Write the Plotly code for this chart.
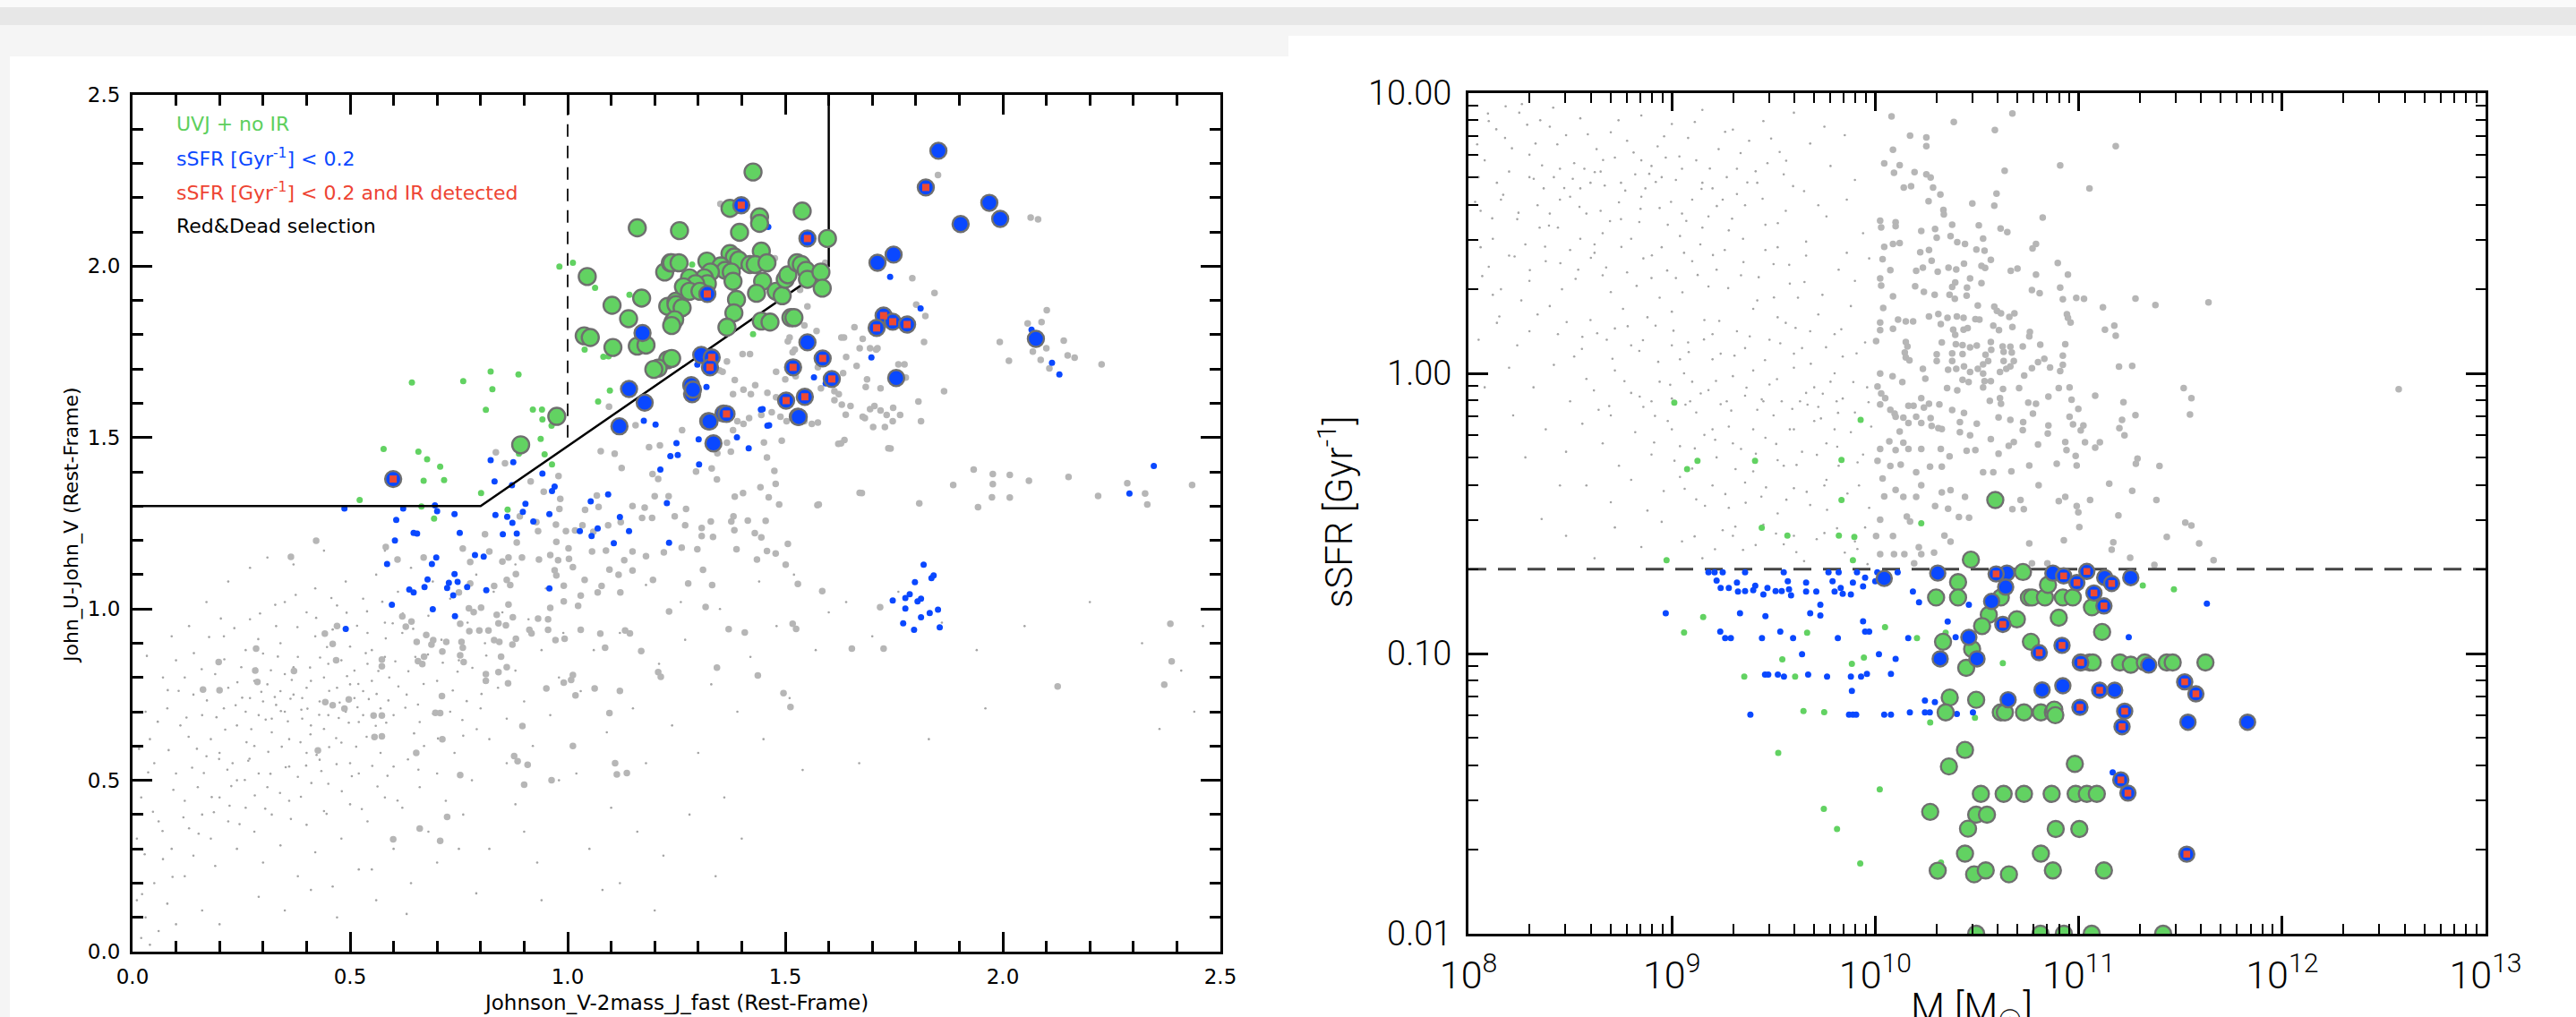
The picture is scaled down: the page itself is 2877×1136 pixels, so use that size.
import plotly.graph_objects as go

W, H = 2877, 1136

# ======================= LEFT PANEL : UVJ colour-colour =======================
# tiny background points (V-J, U-V)
L_TINY = [
(0.18,0.62),(0.21,0.71),(0.24,0.66),(0.27,0.74),(0.29,0.69),(0.31,0.78),(0.33,0.72),(0.35,0.81),(0.37,0.75),(0.39,0.68),
(0.41,0.79),(0.43,0.73),(0.45,0.84),(0.47,0.77),(0.49,0.70),(0.51,0.82),(0.53,0.76),(0.55,0.88),(0.57,0.71),(0.59,0.80),
(0.20,0.58),(0.22,0.77),(0.25,0.83),(0.28,0.60),(0.30,0.87),(0.32,0.64),(0.34,0.90),(0.36,0.62),(0.38,0.86),(0.40,0.58),
(0.42,0.92),(0.44,0.65),(0.46,0.94),(0.48,0.61),(0.50,0.89),(0.52,0.67),(0.54,0.93),(0.56,0.63),(0.58,0.96),(0.60,0.69),
(0.16,0.69),(0.19,0.81),(0.23,0.55),(0.26,0.88),(0.29,0.52),(0.33,0.95),(0.36,0.54),(0.40,0.99),(0.43,0.56),(0.47,1.01),
(0.50,0.55),(0.53,1.03),(0.57,0.58),(0.61,1.05),(0.63,0.75),(0.65,0.86),(0.62,0.93),(0.66,0.67),(0.68,0.98),(0.70,0.79),
(0.14,0.75),(0.17,0.57),(0.21,0.92),(0.24,0.50),(0.27,0.97),(0.31,0.48),(0.35,1.02),(0.38,0.51),(0.42,1.06),(0.45,0.49),
(0.49,1.08),(0.52,0.52),(0.56,1.10),(0.60,0.54),(0.64,1.12),(0.67,0.60),(0.71,0.91),(0.73,0.70),(0.75,0.85),(0.77,0.96),
(0.26,0.70),(0.28,0.79),(0.32,0.68),(0.34,0.76),(0.37,0.83),(0.39,0.74),(0.41,0.66),(0.44,0.80),(0.46,0.72),(0.48,0.85),
(0.51,0.74),(0.53,0.69),(0.55,0.79),(0.58,0.86),(0.30,0.73),(0.35,0.70),(0.40,0.77),(0.45,0.69),(0.50,0.78),(0.54,0.84),
(0.02,0.45),(0.04,0.62),(0.06,0.38),(0.08,0.71),(0.10,0.52),(0.12,0.44),(0.05,0.55),(0.09,0.30),(0.11,0.66),(0.13,0.36),
(0.15,0.48),(0.07,0.80),(0.03,0.70),(0.01,0.33),(0.14,0.28),(0.16,0.40),(0.18,0.33),(0.20,0.45),(0.22,0.38),(0.19,0.25),
(0.24,0.30),(0.26,0.42),(0.28,0.35),(0.30,0.26),(0.32,0.40),(0.34,0.31),(0.36,0.44),(0.38,0.22),(0.40,0.37),(0.42,0.29),
(0.44,0.41),(0.46,0.19),(0.48,0.33),(0.50,0.43),(0.52,0.24),(0.54,0.38),(0.56,0.15),(0.58,0.45),(0.60,0.30),(0.62,0.42),
(0.64,0.20),(0.66,0.48),(0.68,0.35),(0.70,0.52),(0.72,0.44),(0.74,0.58),(0.76,0.63),(0.78,0.50),(0.80,0.71),(0.82,0.62),
(0.84,0.77),(0.86,0.68),(0.88,0.82),(0.90,0.73),(0.92,0.60),(0.94,0.88),(0.96,0.69),(0.98,0.80),(0.81,0.90),(0.85,0.99),
(0.10,0.85),(0.13,0.95),(0.17,1.02),(0.22,1.08),(0.27,1.12),(0.12,0.80),(0.09,0.92),(0.31,1.15),(0.37,1.13),(0.44,1.17),
(0.58,1.17),(0.69,1.08),(0.73,1.03),(0.79,1.10),(0.83,1.05),(0.88,1.13),(0.91,0.97),(0.95,1.06),(0.99,0.93),(1.02,1.01),
(0.05,0.20),(0.08,0.14),(0.12,0.22),(0.03,0.10),(0.02,0.04),(0.06,0.06),(0.04,0.02),(0.10,0.08),(0.01,0.15),(0.07,0.27),
(0.16,0.12),(0.20,0.08),(0.29,0.16),(0.35,0.12),(0.41,0.18),(0.47,0.10),(0.55,0.24),(0.63,0.11),(0.70,0.26),(0.76,0.40),
(1.03,0.76),(1.06,0.88),(1.09,0.64),(1.12,0.93),(1.15,0.71),(1.18,0.55),(1.21,0.84),(1.24,0.66),(1.27,0.91),(1.30,0.58),
(1.33,0.78),(1.36,0.45),(1.39,0.70),(1.42,0.86),(1.45,0.62),(1.48,0.95),(1.51,0.74),(1.54,0.53),(1.57,0.88),(1.60,0.99),
(1.05,0.30),(1.10,0.42),(1.16,0.35),(1.22,0.28),(1.28,0.40),(1.34,0.22),(1.40,0.33),(1.08,0.18),(1.20,0.12),(0.82,0.30),
(0.88,0.43),(0.93,0.26),(0.98,0.50),(1.64,1.02),(1.70,0.92),(1.76,1.05),(1.86,0.96),(1.94,0.88),(2.05,0.95),(2.20,1.02),
(2.32,0.90),(2.41,0.82),(2.46,0.95),(2.44,0.70),(2.36,0.65),(1.96,0.71),(1.83,0.62),(1.67,0.55),(1.12,0.20),(0.94,0.15),
(1.02,0.52),(0.86,0.55),(0.90,0.35),(0.75,0.30),(0.79,0.17),(1.52,1.10),(1.44,1.08),(1.35,1.00),(1.26,1.02),(1.18,1.07),
(0.213,0.648),(0.237,0.719),(0.262,0.611),(0.284,0.826),(0.306,0.677),(0.327,0.743),(0.343,0.598),(0.366,0.793),(0.388,0.706),(0.409,0.634),
(0.431,0.858),(0.452,0.761),(0.474,0.682),(0.493,0.804),(0.517,0.713),(0.538,0.627),(0.561,0.752),(0.583,0.668),(0.604,0.847),(0.627,0.712),
(0.148,0.592),(0.171,0.733),(0.193,0.684),(0.218,0.531),(0.241,0.786),(0.266,0.557),(0.289,0.912),(0.312,0.583),(0.334,0.861),(0.357,0.672),
(0.379,0.947),(0.402,0.709),(0.423,0.574),(0.447,0.889),(0.468,0.623),(0.491,0.936),(0.514,0.598),(0.536,0.871),(0.559,0.659),(0.582,0.914),
(0.647,0.637),(0.669,0.781),(0.691,0.694),(0.713,0.843),(0.736,0.762),(0.758,0.676),(0.781,0.828),(0.802,0.752),(0.124,0.683),(0.137,0.537),
(0.159,0.824),(0.182,0.451),(0.203,0.972),(0.227,0.483),(0.252,0.741),(0.273,0.649),(0.296,0.758),(0.318,0.821),(0.341,0.702),(0.363,0.738),
(0.386,0.611),(0.408,0.829),(0.429,0.691),(0.452,0.597),(0.476,0.727),(0.497,0.668),(0.519,0.781),(0.543,0.737),(0.565,0.819),(0.588,0.733),
(0.611,0.774),(0.634,0.818),(0.656,0.721),(0.679,0.867),(0.702,0.622),(0.724,0.908),(0.747,0.817),(0.768,0.731),(0.791,0.649),(0.813,0.864),
(0.083,0.588),(0.094,0.472),(0.106,0.761),(0.117,0.392),(0.129,0.627),(0.141,0.871),(0.152,0.344),(0.164,0.521),(0.176,0.918),(0.187,0.407),
(0.199,0.562),(0.211,0.853),(0.223,0.426),(0.234,0.944),(0.246,0.372),(0.258,0.501),(0.269,0.563),(0.281,0.456),(0.293,0.987),(0.305,0.417),
(0.317,0.519),(0.328,1.012),(0.339,0.463),(0.352,0.538),(0.364,0.387),(0.375,1.041),(0.387,0.452),(0.399,0.543),(0.411,0.492),(0.422,0.974),
(0.434,0.527),(0.446,0.402),(0.457,1.032),(0.469,0.547),(0.481,0.468),(0.492,0.989),(0.504,0.512),(0.516,0.951),(0.527,0.416),(0.539,0.993),
(0.551,0.542),(0.563,0.482),(0.574,1.021),(0.586,0.513),(0.598,0.958),(0.609,0.441),(0.621,0.987),(0.633,0.561),(0.645,0.942),(0.657,0.531),
(0.036,0.523),(0.047,0.408),(0.058,0.671),(0.069,0.352),(0.081,0.763),(0.092,0.218),(0.028,0.284),(0.015,0.592),(0.022,0.168),(0.033,0.863),
]

# gray (no selection) galaxies
L_GRAY = [
(0.422,1.199),(0.364,1.152),(0.582,1.181),(0.609,1.144),(0.669,1.150),(0.759,1.176),(0.820,1.168),(0.883,1.194),(0.974,1.196),
(1.002,1.177),(1.056,1.168),(1.088,1.170),(1.149,1.168),(1.180,1.154),(1.221,1.165),(1.262,1.179),(1.298,1.174),(0.864,1.150),
(0.895,1.150),(0.934,1.144),(0.960,1.157),(0.978,1.142),(1.003,1.146),(1.012,1.122),(0.970,1.113),(0.974,1.098),(0.776,1.137),
(0.850,1.138),(1.096,1.115),(1.130,1.142),(1.149,1.112),(1.117,1.100),(1.121,1.048),(1.078,1.067),(1.069,1.048),(1.277,1.074),
(1.196,1.085),(1.039,1.085),(0.991,1.068),(1.030,1.039),(1.024,1.009),(0.991,1.022),(0.960,1.003),(0.881,1.102),(0.860,1.085),
(0.868,1.070),(0.831,1.067),(0.776,1.074),(0.750,1.048),(1.233,0.993),(0.620,0.978),(0.641,0.963),(0.628,0.948),(0.773,1.002),
(0.801,1.004),(0.784,0.991),(0.837,0.983),(0.874,0.976),(0.864,1.013),(0.753,0.957),(0.774,0.935),(0.797,0.937),(0.818,0.937),
(0.841,0.958),(0.858,0.952),(0.912,0.939),(0.932,0.972),(0.955,0.970),(0.955,0.939),(0.917,0.929),(0.675,0.924),(0.691,0.909),
(0.721,0.904),(0.653,0.904),(0.687,0.896),(0.756,0.904),(0.759,0.887),(0.753,0.865),(0.761,0.845),(0.831,0.909),(0.843,0.904),
(0.873,0.896),(0.881,0.913),(0.972,0.909),(0.993,0.913),(1.030,0.939),(1.075,0.928),(1.132,0.937),(1.143,0.929),(0.712,0.876),
(0.670,0.861),(0.666,0.839),(0.656,0.848),(0.573,0.852),(0.573,0.833),(0.468,0.850),(0.460,0.898),(0.442,0.928),(0.470,0.950),
(0.847,0.861),(0.860,0.830),(0.841,0.816),(0.812,0.810),(0.812,0.790),(0.863,0.783),(1.086,0.887),(1.169,0.877),(1.208,0.816),
(1.214,0.802),(0.991,0.785),(1.008,0.793),(1.012,0.807),(1.018,0.748),(1.062,0.768),(1.120,0.761),(0.951,0.768),(0.284,0.884),
(0.198,0.845),(0.282,0.820),(0.371,0.819),(0.287,0.787),(0.162,0.765),(0.200,0.763),(0.443,0.728),(0.460,0.719),(0.497,0.736),
(0.487,0.709),(0.554,0.689),(0.573,0.689),(0.696,0.697),(0.707,0.696),(0.711,0.746),(0.712,0.620),(0.556,0.626),(0.573,0.628),
(0.426,0.587),(0.652,0.580),(0.896,0.658),(1.096,0.696),(1.012,0.600),(0.877,0.571),(0.885,0.556),(0.908,0.545),(1.109,0.550),
(1.113,0.517),(1.136,0.521),(0.753,0.515),(0.900,0.487),(0.963,0.500),(0.723,0.393),(0.660,0.359),(0.599,0.328),(0.707,0.323),
(0.835,1.457),(0.856,1.425),(0.915,1.372),(0.979,1.388),(0.945,1.342),(0.983,1.321),(0.981,1.292),(0.890,1.270),(0.932,1.227),
(0.928,1.253),(0.973,1.246),(0.996,1.227),(1.017,1.229),(1.034,1.244),(1.059,1.225),(1.040,1.289),(1.067,1.331),(1.071,1.298),
(1.093,1.244),(1.122,1.253),(1.149,1.300),(1.177,1.296),(1.171,1.266),(1.194,1.266),(1.200,1.329),(1.232,1.329),(1.246,1.270),
(1.270,1.244),(1.272,1.292),(1.295,1.401),(1.212,1.477),(1.187,1.472),(1.195,1.394),(1.208,1.379),(1.124,1.411),(1.108,1.453),
(1.076,1.460),(1.095,1.590),(1.156,1.536),(0.810,1.218),
(1.851,2.266),(2.064,2.142),(2.081,2.137),(1.792,1.965),(1.843,1.922),(2.101,1.872),(2.057,1.833),(2.089,1.837),(2.140,1.783),
(1.993,1.779),(2.014,1.724),(2.100,1.761),(2.069,1.751),(2.087,1.727),(2.107,1.702),(2.149,1.740),(2.165,1.733),(2.227,1.714),
(1.819,1.779),(1.822,1.855),(1.801,1.888),(1.659,1.822),(1.678,1.788),(1.635,1.792),(1.629,1.792),(1.671,1.761),(1.695,1.761),
(1.712,1.761),(1.709,1.757),(1.760,1.714),(1.774,1.714),(1.777,1.675),(1.688,1.670),(1.685,1.648),(1.719,1.644),(1.664,1.709),
(1.640,1.735),(1.633,1.688),(1.623,1.627),(1.613,1.609),(1.630,1.596),(1.650,1.592),(1.678,1.561),(1.695,1.583),(1.705,1.592),
(1.719,1.579),(1.733,1.566),(1.747,1.548),(1.764,1.566),(1.748,1.587),(1.702,1.531),(1.729,1.531),(1.812,1.548),(1.806,1.605),
(1.865,1.635),(1.575,1.544),(1.561,1.540),(1.582,1.644),(1.613,1.635),(1.575,1.705),(1.639,1.567),(1.524,1.679),(1.500,1.670),
(1.479,1.692),(1.510,1.792),(1.517,1.749),(1.506,1.781),(1.572,1.811),(1.544,1.827),(1.522,1.757),(1.402,1.744),(1.419,1.744),
(1.366,1.722),(1.349,1.696),(1.356,1.692),(1.384,1.668),(1.380,1.627),(1.404,1.640),(1.421,1.627),(1.431,1.653),(1.459,1.631),
(1.479,1.618),(1.445,1.566),(1.417,1.557),(1.404,1.540),(1.390,1.548),(1.380,1.522),(1.469,1.574),(1.489,1.561),(1.503,1.548),
(1.544,1.548),(1.263,1.522),(1.551,1.883),(1.534,1.931),(1.592,2.010),(1.541,1.979),(1.513,1.971),(1.476,2.023),(1.351,2.182),
(1.933,1.407),(1.977,1.394),(1.977,1.364),(1.975,1.326),(2.016,1.391),(2.016,1.325),(2.060,1.374),(2.151,1.385),(1.886,1.362),
(1.943,1.297),(1.808,1.308),(2.219,1.330),(2.286,1.367),(2.327,1.337),(2.332,1.305),(2.435,1.362),(2.385,0.957),(2.388,0.847),
(2.371,0.779),(2.126,0.774),(1.718,1.005),(1.653,0.884),(1.726,0.884),(1.585,1.052),(1.529,1.073),(1.517,0.957),(1.525,0.942),
(1.407,0.931),(1.370,0.941),(1.343,0.829),(1.437,0.806),(1.496,0.754),(1.512,0.714),(1.317,1.006),(1.332,1.070),(1.311,1.114),
(1.501,1.129),(1.478,1.162),(1.458,1.169),(1.435,1.144),(1.388,1.174),(1.506,1.190),(1.445,1.209),(1.430,1.221),(1.383,1.230),
(1.334,1.210),(1.308,1.213),(1.308,1.236),(1.329,1.255),(1.376,1.255),(1.381,1.270),(1.414,1.258),(1.455,1.257),(1.486,1.305),
(1.462,1.326),(1.384,1.328),(1.403,1.338),(1.443,1.355),(1.478,1.365),(1.475,1.403),(1.458,1.442),(1.343,1.378),(1.574,1.303),
(1.671,1.339),(1.737,1.469),(1.622,1.482),(1.636,1.493),(1.492,1.491),(1.451,1.486),(1.366,1.485),(1.375,1.459),(1.344,1.454),
(1.331,1.410),(1.577,1.305),(1.676,1.338),(1.628,1.483),(1.742,1.468),(1.683,1.557),
]

L_GREEN_SMALL = [
(0.827,1.641),(1.097,1.637),(0.812,1.581),(0.920,1.582),(0.941,1.582),(0.942,1.553),(0.963,1.535),(1.070,1.605),(0.938,1.496),
(0.947,1.451),(0.964,1.422),(0.888,1.453),(0.577,1.467),(0.657,1.459),(0.677,1.437),(0.707,1.415),(0.669,1.374),(0.716,1.376),
(0.522,1.318),(0.801,1.338),(0.664,1.299),(0.862,1.290),(0.693,1.264),(0.600,1.366),(0.981,1.999),(1.012,2.010),(1.063,1.937),
(1.039,1.757),(1.082,1.736),(0.642,1.661),(0.760,1.665),(0.823,1.693),(0.887,1.684),(1.094,1.737),(1.142,1.917),(1.426,1.802),
(1.286,2.005),
]

L_BLUE_SMALL = [
(0.823,1.434),(0.875,1.428),(0.832,1.372),(0.872,1.361),(0.942,1.395),(0.964,1.344),(0.970,1.357),(0.487,1.293),(0.622,1.293),
(0.695,1.302),(0.700,1.285),(0.740,1.277),(0.606,1.260),(0.646,1.222),(0.654,1.220),(0.603,1.200),(0.752,1.222),(0.834,1.274),
(0.861,1.269),(0.873,1.251),(0.897,1.283),(0.903,1.307),(0.921,1.255),(0.958,1.277),(0.851,1.218),(0.883,1.220),(1.053,1.314),
(1.093,1.334),(1.028,1.227),(1.055,1.213),(1.069,1.235),(1.120,1.268),(1.141,1.227),(1.106,1.192),(1.228,1.309),(1.233,1.193),
(0.787,1.157),(0.807,1.153),(0.698,1.150),(0.688,1.131),(0.585,1.131),(0.678,1.086),(0.671,1.064),(0.636,1.057),(0.646,1.048),
(0.727,1.076),(0.723,1.061),(0.747,1.079),(0.740,1.102),(0.769,1.064),(0.737,1.040),(0.813,1.055),(0.958,1.060),(0.596,1.012),
(0.690,0.999),(0.741,0.979),(0.490,0.942),(1.175,1.549),(1.202,1.538),(1.250,1.484),(1.236,1.446),(1.253,1.449),(1.301,1.495),
(1.302,1.422),(1.213,1.407),(1.389,1.501),(1.416,1.469),(1.448,1.583),(1.463,1.536),
(1.818,1.129),(1.836,1.090),(1.841,1.098),(1.798,1.078),(1.747,1.025),(1.776,1.032),(1.786,1.043),(1.804,1.022),(1.812,1.030),
(1.776,1.001),(1.851,0.998),(1.832,0.988),(1.812,0.976),(1.771,0.958),(1.796,0.939),(1.855,0.946),(2.347,1.417),(2.291,1.337),
(1.461,2.115),(1.741,1.969),(1.811,1.877),(2.066,1.815),(2.113,1.718),(2.130,1.684),(1.698,1.734),(1.566,1.676),(1.593,1.658),
(1.319,1.648),(1.444,1.582),(1.459,1.535),(1.298,1.713),
]

L_GREEN_BIG = [
(0.892,1.479),(0.975,1.562),(1.045,1.970),(1.038,1.797),(1.052,1.792),(1.102,1.886),(1.104,1.763),(1.140,1.847),(1.170,1.907),
(1.160,1.767),(1.180,1.770),(1.160,2.112),(1.257,2.104),(1.223,1.983),(1.236,2.010),(1.230,1.883),(1.249,1.898),(1.242,1.837),
(1.230,1.727),(1.208,1.703),(1.198,1.699),
(1.426,2.275),(1.373,2.169),(1.539,2.161),(1.441,2.144),(1.441,2.125),(1.395,2.099),(1.597,2.081),(1.239,2.010),(1.256,2.010),
(1.320,2.015),(1.373,2.037),(1.383,2.027),(1.393,2.018),(1.445,2.044),(1.419,2.005),(1.431,2.005),(1.458,2.010),(1.352,2.001),
(1.362,1.988),(1.376,1.983),(1.380,1.956),(1.328,1.983),(1.314,1.966),(1.321,1.949),(1.280,1.966),(1.294,1.949),(1.266,1.940),
(1.280,1.927),(1.304,1.927),(1.249,1.888),(1.263,1.879),(1.246,1.844),(1.239,1.827),(1.388,1.903),(1.382,1.864),(1.366,1.822),
(1.448,1.956),(1.434,1.921),(1.445,1.840),(1.465,1.837),(1.513,1.850),(1.520,1.850),(1.479,1.927),(1.493,1.914),(1.500,1.962),
(1.506,1.975),(1.527,2.010),(1.537,2.005),(1.548,1.988),(1.551,1.962),(1.582,1.983),(1.585,1.936),(1.239,1.731),
]

L_BLUE_BIG = [
(1.852,2.337),(1.969,2.185),(1.994,2.138),(1.903,2.123),(1.712,2.010),(1.749,2.034),(2.076,1.788),(1.551,1.778),(1.529,1.561),
(1.755,1.674),(1.307,1.741),(1.284,1.653),(1.286,1.627),(1.323,1.548),(1.141,1.642),(1.177,1.602),(1.119,1.533),(1.288,1.640),
(1.326,1.547),(1.335,1.483),(1.531,1.560),(1.172,1.805),(1.358,1.570),
]

L_BLUE_RED = [
(0.599,1.379),(1.823,2.230),(1.399,2.178),(1.551,2.081),(1.321,1.919),(1.726,1.856),(1.747,1.838),(1.710,1.820),(1.780,1.830),
(1.586,1.731),(1.518,1.705),(1.607,1.671),(1.502,1.608),(1.545,1.619),(1.331,1.734),(1.327,1.705),(1.365,1.569),
]

UVJ_BOX_X = [0.0, 0.8, 1.6, 1.6]
UVJ_BOX_Y = [1.3, 1.3, 2.0, 2.5]
VJ_CUT_X = [1.0, 1.0]
VJ_CUT_Y = [1.5, 2.5]

LEGEND_TEXT = ["UVJ + no IR", "sSFR [Gyr<sup>-1</sup>] &lt; 0.2",
               "sSFR [Gyr<sup>-1</sup>] &lt; 0.2 and IR detected", "Red&amp;Dead selection"]
LEGEND_Y = [2.415, 2.316, 2.219, 2.118]
LEGEND_COLOR = ["#5dcf5d", "#0a48ff", "#ee4433", "#000000"]

L_TICKS = [0.0, 0.5, 1.0, 1.5, 2.0, 2.5]
L_TICKTEXT = ["0.0", "0.5", "1.0", "1.5", "2.0", "2.5"]

# ======================= RIGHT PANEL : sSFR vs stellar mass ===================
# values are (log10 M, log10 sSFR)
R_TINY = [
(8.10,0.90),(8.25,0.93),(8.40,0.88),(8.55,0.91),(8.70,0.86),(8.85,0.92),(9.00,0.89),(9.15,0.94),(9.30,0.87),(9.45,0.90),
(9.60,0.93),(9.75,0.88),(8.18,0.84),(8.33,0.82),(8.48,0.85),(8.63,0.80),(8.78,0.83),(8.93,0.81),(9.08,0.84),(9.23,0.80),
(9.38,0.83),(9.53,0.79),(9.68,0.82),(9.85,0.85),(8.08,0.76),(8.20,0.72),(8.30,0.78),(8.42,0.70),(8.52,0.75),(8.60,0.68),
(8.72,0.77),(8.82,0.71),(8.90,0.74),(9.02,0.69),(9.12,0.76),(9.20,0.66),(9.32,0.73),(9.42,0.68),(9.55,0.71),(9.65,0.65),
(9.78,0.74),(9.90,0.69),(8.14,0.68),(8.37,0.66),(8.57,0.73),(8.67,0.67),(8.87,0.66),(8.97,0.77),(9.27,0.70),(9.47,0.75),
(8.06,0.58),(8.16,0.62),(8.24,0.55),(8.34,0.60),(8.44,0.52),(8.50,0.63),(8.58,0.57),(8.66,0.50),(8.74,0.61),(8.84,0.54),
(8.94,0.59),(9.04,0.49),(9.10,0.62),(9.18,0.56),(9.28,0.51),(9.36,0.60),(9.46,0.53),(9.56,0.58),(9.66,0.47),(9.76,0.56),
(9.86,0.62),(9.94,0.50),(8.12,0.48),(8.28,0.46),(8.40,0.57),(8.62,0.46),(8.80,0.48),(8.98,0.53),(9.14,0.46),(9.32,0.64),
(9.52,0.45),(9.72,0.60),(8.10,0.38),(8.20,0.42),(8.30,0.33),(8.38,0.40),(8.46,0.30),(8.54,0.37),(8.62,0.43),(8.70,0.29),
(8.78,0.36),(8.86,0.41),(8.94,0.27),(9.02,0.34),(9.10,0.40),(9.18,0.31),(9.26,0.44),(9.34,0.35),(9.42,0.26),(9.50,0.39),
(9.58,0.32),(9.66,0.42),(9.74,0.28),(9.82,0.37),(9.90,0.33),(9.97,0.41),(8.16,0.30),(8.26,0.26),(8.50,0.44),(8.66,0.35),
(8.90,0.34),(9.06,0.43),(9.22,0.37),(9.46,0.44),(9.62,0.27),(9.86,0.43),(8.14,0.18),(8.24,0.10),(8.34,0.21),(8.44,0.14),
(8.52,0.06),(8.60,0.19),(8.68,0.12),(8.76,0.23),(8.84,0.08),(8.92,0.17),(9.00,0.22),(9.08,0.11),(9.16,0.19),(9.24,0.07),
(9.32,0.15),(9.40,0.23),(9.48,0.12),(9.56,0.18),(9.64,0.09),(9.72,0.21),(9.80,0.14),(9.88,0.24),(9.95,0.11),(8.40,0.24),
(8.56,0.13),(8.72,0.16),(8.88,0.20),(9.04,0.05),(9.20,0.14),(9.36,0.09),(9.52,0.20),(9.68,0.15),(9.84,0.06),(8.20,0.02),
(8.32,-0.05),(8.42,0.03),(8.50,-0.10),(8.58,-0.02),(8.64,-0.13),(8.72,0.01),(8.80,-0.07),(8.86,-0.12),(8.94,-0.03),(9.00,-0.09),
(9.06,0.00),(9.12,-0.14),(9.18,-0.06),(9.24,-0.11),(9.30,-0.01),(9.36,-0.08),(9.42,-0.13),(9.48,-0.04),(9.54,-0.10),(9.60,0.02),
(9.66,-0.07),(9.72,-0.12),(9.78,-0.03),(9.84,-0.09),(9.90,-0.14),(9.96,-0.05),(8.90,-0.10),(9.09,-0.10),(9.27,-0.10),(9.45,-0.10),
(9.63,-0.10),(9.81,-0.10),(8.38,-0.20),(8.48,-0.28),(8.56,-0.18),(8.66,-0.25),(8.74,-0.33),(8.82,-0.21),(8.90,-0.29),(8.98,-0.17),
(9.04,-0.26),(9.10,-0.34),(9.16,-0.22),(9.22,-0.30),(9.28,-0.19),(9.34,-0.27),(9.40,-0.35),(9.46,-0.23),(9.52,-0.31),(9.58,-0.20),
(9.64,-0.28),(9.70,-0.17),(9.76,-0.25),(9.82,-0.33),(9.88,-0.21),(9.94,-0.29),(9.98,-0.19),(9.00,-0.20),(9.20,-0.20),(9.40,-0.20),
(9.60,-0.20),(9.80,-0.20),(8.58,-0.40),(8.70,-0.46),(8.80,-0.38),(8.88,-0.49),(8.96,-0.42),(9.04,-0.37),(9.12,-0.45),(9.20,-0.40),
(9.28,-0.48),(9.36,-0.39),(9.44,-0.44),(9.52,-0.50),(9.60,-0.41),(9.68,-0.47),(9.76,-0.38),(9.84,-0.45),(9.92,-0.40),(9.97,-0.48),
(8.72,-0.55),(8.85,-0.62),(8.95,-0.53),(9.05,-0.60),(9.15,-0.66),(9.25,-0.56),(9.35,-0.63),(9.45,-0.54),(9.55,-0.61),(9.65,-0.67),
(9.75,-0.57),(9.85,-0.64),(9.95,-0.55),(9.30,-0.58),(9.60,-0.58),(9.90,-0.60),(8.05,0.12),(8.08,-0.05),(8.12,0.28),(8.22,-0.15),
(8.28,-0.30),(8.30,0.15),(8.45,-0.40),(8.36,-0.52),(8.48,-0.58),(8.62,-0.66),(8.06,0.45),(8.05,0.70),(8.30,0.70),(8.45,0.73),
(8.55,0.66),(8.65,0.72),(8.75,0.68),(8.85,0.76),(8.95,0.70),(9.05,0.73),(9.15,0.68),(8.35,0.52),(8.55,0.48),(8.75,0.55),
(8.95,0.45),(9.15,0.52),(9.35,0.48),(8.45,0.62),(8.65,0.58),(8.85,0.63),(9.05,0.57),(9.25,0.62),(9.20,0.05),(9.40,0.01),
(9.60,0.07),(9.80,0.00),(9.50,-0.15),(9.70,-0.05),(9.30,-0.25),(9.55,-0.33),(9.75,-0.40),(9.10,-0.03),(9.00,0.10),(8.80,0.10),
(8.70,-0.15),
(8.137,0.871),(8.214,0.803),(8.289,0.887),(8.362,0.742),(8.437,0.817),(8.513,0.694),(8.587,0.853),(8.662,0.761),(8.738,0.903),(8.812,0.788),
(8.889,0.712),(8.962,0.846),(9.037,0.774),(9.113,0.897),(9.187,0.731),(9.262,0.862),(9.338,0.786),(9.412,0.721),(9.488,0.838),(9.562,0.759),
(8.171,0.637),(8.246,0.573),(8.321,0.694),(8.396,0.527),(8.471,0.661),(8.546,0.594),(8.621,0.718),(8.696,0.543),(8.771,0.652),(8.846,0.587),
(8.921,0.683),(8.996,0.612),(9.071,0.544),(9.146,0.658),(9.221,0.597),(9.296,0.552),(9.371,0.681),(9.446,0.623),(9.521,0.536),(9.596,0.668),
(8.227,0.417),(8.302,0.368),(8.377,0.452),(8.452,0.393),(8.527,0.337),(8.602,0.412),(8.677,0.378),(8.752,0.451),(8.827,0.312),(8.902,0.421),
(8.977,0.367),(9.052,0.289),(9.127,0.351),(9.202,0.422),(9.277,0.304),(9.352,0.397),(9.427,0.343),(9.502,0.271),(9.577,0.387),(9.652,0.326),
(8.483,0.183),(8.558,0.087),(8.633,0.143),(8.708,0.052),(8.783,0.168),(8.858,0.118),(8.933,0.041),(9.008,0.152),(9.083,0.076),(9.158,0.121),
(9.233,0.187),(9.308,0.063),(9.383,0.132),(9.458,0.047),(9.533,0.107),(9.608,0.162),(9.683,0.034),(9.758,0.093),(9.833,0.157),(9.908,0.071),
(8.617,-0.061),(8.692,-0.117),(8.767,-0.028),(8.842,-0.083),(8.917,-0.152),(8.992,-0.041),(9.067,-0.112),(9.142,-0.072),(9.217,-0.027),(9.292,-0.133),
(9.367,-0.051),(9.442,-0.093),(9.517,-0.021),(9.592,-0.127),(9.667,-0.112),(9.742,-0.073),(9.817,-0.141),(9.892,-0.031),(9.967,-0.103),(9.733,-0.161),
(8.913,-0.247),(9.013,-0.312),(9.113,-0.268),(9.213,-0.237),(9.313,-0.342),(9.413,-0.287),(9.513,-0.252),(9.613,-0.327),(9.713,-0.291),(9.813,-0.262),
(9.913,-0.318),(9.063,-0.412),(9.163,-0.473),(9.263,-0.431),(9.363,-0.462),(9.463,-0.407),(9.563,-0.451),(9.663,-0.423),(9.763,-0.487),(9.863,-0.429),
(9.112,-0.582),(9.212,-0.628),(9.312,-0.547),(9.412,-0.613),(9.512,-0.572),(9.612,-0.638),(9.712,-0.592),(9.812,-0.553),(9.912,-0.627),(9.962,-0.681),
(8.117,0.553),(8.043,0.817),(8.068,0.347),(8.152,0.203),(8.033,0.612),(8.096,0.927),(8.183,0.953),(8.263,0.961),(8.353,0.903),(8.417,0.948),
]

R_GRAY = [
(10.080,0.917),(10.386,0.897),(10.674,0.927),(10.588,0.868),(10.171,0.848),(10.251,0.842),(10.251,0.811),(11.182,0.811),
(10.087,0.798),(10.909,0.742),(10.044,0.749),(10.120,0.743),(10.092,0.716),(10.193,0.718),(10.251,0.710),(10.272,0.699),
(10.636,0.723),(10.140,0.663),(10.176,0.668),(11.053,0.660),(10.284,0.663),(10.320,0.638),(10.262,0.614),(10.596,0.641),
(10.585,0.598),(10.477,0.606),(10.335,0.583),(10.337,0.567),(10.823,0.556),(10.024,0.545),(10.100,0.539),(10.029,0.521),
(10.100,0.525),(10.226,0.508),(10.294,0.515),(10.378,0.530),(10.509,0.528),(10.616,0.517),(10.649,0.504),(10.302,0.484),
(10.370,0.490),(10.403,0.468),(10.441,0.462),(10.530,0.481),(10.087,0.462),(10.120,0.465),(10.044,0.451),(10.264,0.440),
(10.221,0.432),(10.497,0.442),(10.537,0.438),(10.790,0.462),(10.773,0.446),(10.036,0.407),(10.277,0.402),(10.568,0.405),
(10.897,0.394),(10.074,0.368),(10.201,0.366),(10.234,0.377),(10.307,0.363),(10.360,0.377),(10.398,0.371),(10.436,0.391),
(10.522,0.383),(10.540,0.376),(10.666,0.366),(10.699,0.374),(10.790,0.352),(10.947,0.352),(10.024,0.339),(10.029,0.313),
(10.393,0.324),(10.378,0.308),(10.466,0.339),(10.522,0.322),(10.196,0.311),(10.909,0.306),(10.770,0.297),(10.808,0.286),
(10.239,0.291),(10.292,0.280),(10.365,0.280),(10.391,0.266),(10.451,0.306),(10.449,0.277),(10.087,0.275),(10.922,0.264),
(10.988,0.269),(11.026,0.266),(11.279,0.267),(11.377,0.244),(11.638,0.253),(11.119,0.236),(10.039,0.233),(10.585,0.238),
(10.598,0.223),(10.618,0.214),(10.684,0.214),(10.504,0.242),(10.401,0.203),(10.355,0.198),(10.310,0.212),(10.659,0.201),
(10.942,0.211),(10.947,0.198),(10.960,0.181),(10.434,0.198),(10.492,0.193),(10.512,0.192),(10.264,0.203),(10.112,0.192),
(10.150,0.185),(10.186,0.185),(10.024,0.181),(10.087,0.159),(10.322,0.176),(10.383,0.156),(10.434,0.156),(10.454,0.161),
(10.580,0.170),(10.608,0.154),(10.674,0.165),(10.760,0.148),(11.129,0.156),(11.175,0.170),(11.182,0.134),(10.024,0.154),
(10.393,0.137),(10.757,0.132),(10.150,0.112),(10.158,0.096),(10.327,0.110),(10.396,0.104),(10.429,0.101),(10.466,0.093),
(10.499,0.099),(10.568,0.112),(10.626,0.096),(10.664,0.095),(10.725,0.096),(10.811,0.102),(10.934,0.104),(10.004,0.115),
(10.145,0.074),(10.150,0.057),(10.168,0.046),(10.378,0.071),(10.429,0.069),(10.542,0.066),(10.570,0.084),(10.631,0.077),
(10.671,0.074),(10.800,0.040),(10.831,0.052),(10.922,0.063),(10.302,0.068),(10.302,0.044),(10.378,0.044),(10.530,0.032),
(10.555,0.044),(10.631,0.044),(10.681,0.044),(10.859,0.021),(10.922,0.030),(10.909,0.008),(11.198,0.024),(11.263,0.026),
(10.234,0.016),(10.358,0.013),(10.398,0.016),(10.436,0.025),(10.466,0.005),(10.504,0.016),(10.530,-0.001),(10.613,0.005),
(10.644,0.016),(10.664,0.025),(10.732,-0.008),(10.770,0.018),(10.024,-0.001),(10.085,-0.010),(10.246,-0.019),(10.429,-0.023),
(10.459,-0.031),(10.537,-0.028),(10.568,-0.028),(10.133,-0.031),(10.011,-0.047),(10.353,-0.053),(10.403,-0.061),(10.530,-0.050),
(10.628,-0.056),(10.707,-0.053),(10.902,-0.053),(10.955,-0.050),(11.516,-0.053),(11.554,-0.089),(11.547,-0.147),(10.029,-0.072),
(10.049,-0.089),(10.024,-0.111),(10.074,-0.130),(10.095,-0.144),(10.163,-0.116),(10.188,-0.116),(10.226,-0.089),(10.239,-0.122),
(10.264,-0.109),(10.315,-0.111),(10.378,-0.131),(10.436,-0.141),(10.563,-0.098),(10.613,-0.089),(10.618,-0.109),(10.752,-0.105),
(10.790,-0.109),(10.851,-0.083),(10.965,-0.094),(11.081,-0.080),(11.220,-0.103),(10.998,-0.127),(10.955,-0.155),(10.100,-0.155),
(10.138,-0.158),(10.163,-0.177),(10.201,-0.155),(10.226,-0.177),(10.272,-0.160),(10.310,-0.196),(10.416,-0.174),(10.499,-0.180),
(10.606,-0.157),(10.664,-0.166),(10.727,-0.174),(10.775,-0.144),(10.851,-0.186),(10.972,-0.182),(11.023,-0.186),(11.213,-0.166),
(11.279,-0.149),(10.120,-0.208),(10.277,-0.188),(10.327,-0.199),(10.416,-0.210),(10.466,-0.221),(10.568,-0.235),(10.725,-0.203),
(10.800,-0.254),(10.848,-0.215),(11.010,-0.204),(11.200,-0.196),(11.225,-0.221),(11.031,-0.246),(11.104,-0.246),(10.069,-0.243),
(10.024,-0.270),(10.100,-0.274),(10.138,-0.248),(10.163,-0.270),(10.226,-0.270),(10.322,-0.270),(10.365,-0.296),(10.449,-0.276),
(10.492,-0.274),(10.606,-0.287),(10.656,-0.259),(10.681,-0.245),(10.934,-0.245),(10.940,-0.274),(10.985,-0.295),(11.081,-0.265),
(11.289,-0.304),(11.281,-0.323),(11.397,-0.331),(10.011,-0.312),(10.074,-0.331),(10.125,-0.326),(10.201,-0.353),(10.269,-0.333),
(10.327,-0.333),(10.530,-0.353),(10.580,-0.353),(10.669,-0.350),(10.757,-0.329),(10.892,-0.323),(10.990,-0.329),(10.036,-0.375),
(10.044,-0.439),(10.100,-0.416),(10.138,-0.441),(10.201,-0.441),(10.226,-0.399),(10.327,-0.425),(10.370,-0.417),(10.441,-0.441),
(10.714,-0.452),(10.902,-0.456),(10.934,-0.441),(11.056,-0.452),(11.263,-0.419),(11.382,-0.452),(10.803,-0.399),(11.150,-0.394),
(10.294,-0.474),(10.358,-0.483),(10.411,-0.513),(10.461,-0.515),(10.674,-0.485),(10.730,-0.485),(10.990,-0.474),(10.998,-0.496),
(11.195,-0.507),(10.024,-0.522),(10.155,-0.511),(10.171,-0.529),(11.003,-0.549),(11.524,-0.533),(11.554,-0.543),(10.004,-0.581),
(10.087,-0.581),(10.214,-0.621),(10.340,-0.579),(10.370,-0.601),(10.757,-0.607),(10.927,-0.596),(11.170,-0.603),(11.162,-0.629),
(11.592,-0.607),(10.024,-0.645),(10.092,-0.645),(10.143,-0.645),(10.226,-0.645),(10.289,-0.640),(11.253,-0.658),(11.433,-0.584),
(11.663,-0.667),(11.372,-0.684),(10.770,-0.678),(10.846,-0.678),(10.191,-0.678),(12.573,-0.057),
]

R_GREEN_SMALL = [
(9.012,-0.105),(9.928,-0.166),(9.126,-0.312),(9.075,-0.342),(9.409,-0.312),(9.834,-0.309),(9.834,-0.452),(10.226,-0.535),
(9.442,-0.551),(9.568,-0.579),(9.821,-0.579),(9.897,-0.584),(8.974,-0.667),(9.890,-0.667),(9.154,-0.870),(9.060,-0.925),
(9.665,-0.926),(10.048,-0.906),(10.205,-0.945),(10.346,-0.926),(10.627,-1.034),(9.543,-1.021),(9.885,-1.037),(9.944,-1.014),
(9.356,-1.082),(9.606,-1.082),(9.647,-1.205),(9.749,-1.209),(10.270,-1.246),(10.490,-1.229),(9.523,-1.355),(10.022,-1.485),
(9.747,-1.554),(9.812,-1.626),(9.926,-1.749),(11.315,-0.757),(11.468,-0.771),(10.323,-1.746),
]

R_BLUE_SMALL = [
(9.18,-0.71),(9.21,-0.71),(9.25,-0.71),(9.36,-0.71),(9.55,-0.71),(9.77,-0.71),(9.82,-0.71),(9.91,-0.71),(10.01,-0.71),(10.11,-0.71),
(9.22,-0.740),(9.32,-0.747),(9.41,-0.758),(9.57,-0.742),(9.66,-0.747),(9.79,-0.742),(9.89,-0.747),(9.95,-0.729),(10.00,-0.742),
(9.24,-0.766),(9.28,-0.766),(9.325,-0.779),(9.36,-0.777),(9.40,-0.774),(9.45,-0.789),(9.47,-0.766),(9.51,-0.777),(9.54,-0.777),
(9.576,-0.771),(9.586,-0.792),(9.66,-0.779),(9.71,-0.779),(9.80,-0.779),(9.83,-0.766),(9.84,-0.787),(9.88,-0.789),(9.94,-0.760),
(10.185,-0.779),(10.215,-0.817),(9.73,-0.826),(9.68,-0.856),(9.73,-0.864),(9.335,-0.856),(9.46,-0.867),(9.94,-0.885),(9.95,-0.922),
(9.97,-0.922),(10.356,-0.886),(10.46,-0.826),(9.238,-0.922),(9.262,-0.945),(9.29,-0.945),(9.443,-0.945),(9.533,-0.922),(9.596,-0.945),
(9.816,-0.945),(10.162,-0.945),(10.395,-0.942),(11.246,-0.942),(9.64,-1.002),(10.018,-1.002),(10.10,-1.019),(9.458,-1.075),
(9.474,-1.075),(9.521,-1.075),(9.551,-1.082),(9.67,-1.075),(9.763,-1.082),(9.88,-1.082),(9.93,-1.082),(9.959,-1.073),(10.077,-1.073),
(9.885,-1.133),(10.244,-1.168),(10.293,-1.173),(9.386,-1.218),(9.871,-1.218),(9.89,-1.218),(9.906,-1.218),(10.044,-1.218),
(10.077,-1.218),(10.17,-1.210),(10.244,-1.210),(10.268,-1.210),(10.401,-1.216),(10.48,-1.210),(11.167,-1.424),(11.63,-0.822),
(8.97,-0.856),
]

R_GREEN_BIG = [
(10.590,-0.452),(10.470,-0.665),(10.407,-0.745),(10.299,-0.800),(10.407,-0.800),(10.726,-0.709),(10.617,-0.800),(10.755,-0.800),
(10.771,-0.800),(10.834,-0.800),(10.922,-0.800),(10.971,-0.800),(10.849,-0.755),(11.065,-0.835),(10.558,-0.862),(10.525,-0.902),
(10.696,-0.878),(10.902,-0.872),(11.115,-0.923),(10.333,-0.958),(10.476,-0.984),(10.765,-0.958),(10.447,-1.051),(11.010,-1.032),
(11.054,-1.032),(11.069,-1.032),(11.203,-1.032),(11.256,-1.040),(11.325,-1.032),(11.433,-1.032),(11.462,-1.032),(11.623,-1.032),
(10.366,-1.157),(10.496,-1.165),(10.346,-1.210),(10.617,-1.210),(10.637,-1.210),(10.731,-1.210),(10.814,-1.210),(10.873,-1.210),
(10.880,-1.200),(10.885,-1.220),(10.441,-1.344),(10.362,-1.403),(10.981,-1.394),(10.519,-1.501),(10.631,-1.501),(10.731,-1.501),
(10.867,-1.501),(10.985,-1.501),(11.040,-1.501),(11.089,-1.501),(10.270,-1.565),(10.496,-1.575),(10.549,-1.575),(10.456,-1.625),
(10.887,-1.626),(11.003,-1.626),(10.441,-1.714),(10.814,-1.714),(10.307,-1.775),(10.486,-1.788),(10.543,-1.774),(10.657,-1.788),
(10.873,-1.774),(11.124,-1.774),(10.496,-2.000),(10.812,-2.000),(10.927,-2.000),(11.064,-2.000),(11.415,-2.000),
]

R_BLUE_BIG = [
(10.044,-0.732),(10.307,-0.713),(10.647,-0.713),(10.641,-0.763),(10.572,-0.814),(10.873,-0.713),(11.128,-0.729),(11.256,-0.729),
(10.460,-0.942),(10.319,-1.019),(10.500,-1.019),(10.820,-1.130),(10.922,-1.115),(10.653,-1.165),(11.177,-1.131),(11.344,-1.041),
(11.537,-1.245),(11.830,-1.245),
]

R_BLUE_RED = [
(10.594,-0.716),(10.926,-0.723),(10.991,-0.747),(11.040,-0.707),(11.162,-0.750),(11.075,-0.784),(11.124,-0.830),(10.627,-0.896),
(10.918,-0.971),(10.806,-0.997),(11.010,-1.032),(11.103,-1.131),(11.006,-1.192),(11.226,-1.206),(11.213,-1.261),(11.521,-1.101),
(11.576,-1.144),(11.207,-1.451),(11.242,-1.498),(11.531,-1.716),
]

SSFR_CUT = 0.2
R_XTICKS = [1e8, 1e9, 1e10, 1e11, 1e12, 1e13]
R_XTICKTEXT = ["10<sup>8</sup>", "10<sup>9</sup>", "10<sup>10</sup>", "10<sup>11</sup>",
               "10<sup>12</sup>", "10<sup>13</sup>"]
R_YTICKS = [0.01, 0.1, 1.0, 10.0]
R_YTICKTEXT = ["0.01", "0.10", "1.00", "10.00"]

# ======================= styling =======================
GRAY_TINY = "#a4a4a4"
GRAY = "#b6b6b6"
GREEN = "#62d262"
BLUE = "#0a48ff"
RED = "#ef4a32"
RING = "#6f6f6f"


def xs(p):
    return [a for a, b in p]


def ys(p):
    return [b for a, b in p]


def lx(p):
    return [10 ** a for a, b in p]


def ly(p):
    return [10 ** b for a, b in p]


fig = go.Figure()


def add_left(pts, size, color, symbol="circle", ring=None):
    m = dict(size=size, color=color, symbol=symbol)
    m["line"] = dict(color=ring, width=2.4) if ring else dict(width=0)
    fig.add_trace(go.Scatter(x=xs(pts), y=ys(pts), mode="markers", marker=m,
                             xaxis="x", yaxis="y", hoverinfo="skip"))


def add_right(pts, size, color, symbol="circle", ring=None):
    m = dict(size=size, color=color, symbol=symbol)
    m["line"] = dict(color=ring, width=2.4) if ring else dict(width=0)
    fig.add_trace(go.Scatter(x=lx(pts), y=ly(pts), mode="markers", marker=m,
                             xaxis="x2", yaxis="y2", hoverinfo="skip"))


add_left(L_TINY, 2.6, GRAY_TINY)
add_left(L_GRAY, 7.5, GRAY)
add_left(L_GREEN_SMALL, 7, GREEN)
add_left(L_BLUE_SMALL, 7, BLUE)
fig.add_trace(go.Scatter(x=UVJ_BOX_X, y=UVJ_BOX_Y, mode="lines",
                         line=dict(color="black", width=2.5), xaxis="x", yaxis="y", hoverinfo="skip"))
fig.add_trace(go.Scatter(x=VJ_CUT_X, y=VJ_CUT_Y, mode="lines",
                         line=dict(color="#222", width=2, dash="14px,10px"), xaxis="x", yaxis="y", hoverinfo="skip"))
add_left(L_GREEN_BIG, 19, GREEN, ring=RING)
add_left(L_BLUE_BIG, 18, BLUE, ring=RING)
add_left(L_BLUE_RED, 18, BLUE, ring=RING)
add_left(L_BLUE_RED, 8, RED, symbol="square")

add_right(R_TINY, 2.6, GRAY_TINY)
add_right(R_GRAY, 7.5, GRAY)
fig.add_trace(go.Scatter(x=[1e8, 1e13], y=[SSFR_CUT, SSFR_CUT], mode="lines",
                         line=dict(color="#444", width=3, dash="20px,13px"),
                         xaxis="x2", yaxis="y2", hoverinfo="skip"))
add_right(R_GREEN_SMALL, 7, GREEN)
add_right(R_BLUE_SMALL, 7, BLUE)
add_right(R_GREEN_BIG, 18, GREEN, ring=RING)
add_right(R_BLUE_BIG, 17, BLUE, ring=RING)
add_right(R_BLUE_RED, 17, BLUE, ring=RING)
add_right(R_BLUE_RED, 7.5, RED, symbol="square")

LFONT = "DejaVu Sans"
RFONT = "Roboto"

axis_common = dict(showgrid=False, zeroline=False, showline=True, linecolor="black",
                   mirror="allticks", ticks="inside", tickcolor="black", automargin=False)

minor_log = [k * 10 ** d for d in range(8, 13) for k in range(2, 10)]
minor_log_y = [k * 10 ** d for d in range(-2, 1) for k in range(2, 10)]

fig.update_layout(
    template="none",
    width=W, height=H, margin=dict(l=0, r=0, t=0, b=0, pad=0, autoexpand=False),
    paper_bgcolor="white", plot_bgcolor="rgba(0,0,0,0)", showlegend=False,
    xaxis=dict(domain=[148 / W, 1363 / W], range=[0, 2.5], anchor="y",
               tickvals=L_TICKS, ticktext=L_TICKTEXT, ticklen=22, tickwidth=3, linewidth=3,
               minor=dict(ticks="inside", dtick=0.1, tick0=0, ticklen=12, tickwidth=2.5, tickcolor="black"),
               tickfont=dict(family=LFONT, size=23, color="black"), ticklabelstandoff=5,
               **axis_common),
    yaxis=dict(domain=[(H - 1063) / H, (H - 106) / H], range=[0, 2.5], anchor="x",
               tickvals=L_TICKS, ticktext=L_TICKTEXT, ticklen=22, tickwidth=3, linewidth=3,
               minor=dict(ticks="inside", dtick=0.1, tick0=0, ticklen=12, tickwidth=2.5, tickcolor="black"),
               tickfont=dict(family=LFONT, size=23, color="black"), ticklabelstandoff=6,
               **axis_common),
    xaxis2=dict(domain=[1640 / W, 2776 / W], type="log", range=[8, 13], anchor="y2",
                tickvals=R_XTICKS, ticktext=R_XTICKTEXT, ticklen=20, tickwidth=2.5, linewidth=3,
                minor=dict(ticks="inside", tickvals=minor_log, ticklen=11, tickwidth=2, tickcolor="black"),
                tickfont=dict(family=RFONT, size=43, color="black", weight=300), ticklabelstandoff=6,
                **axis_common),
    yaxis2=dict(domain=[(H - 1043) / H, (H - 104) / H], type="log", range=[-2, 1], anchor="x2",
                tickvals=R_YTICKS, ticktext=R_YTICKTEXT, ticklen=22, tickwidth=2.5, linewidth=3,
                minor=dict(ticks="inside", tickvals=minor_log_y, ticklen=11, tickwidth=2, tickcolor="black"),
                tickfont=dict(family=RFONT, size=38, color="black", weight=300), ticklabelstandoff=8,
                **axis_common),
)

ann = []
for t, yv, c in zip(LEGEND_TEXT, LEGEND_Y, LEGEND_COLOR):
    ann.append(dict(text=t, x=0.097, y=yv, xref="x", yref="y", xanchor="left", yanchor="middle",
                    showarrow=False, font=dict(family=LFONT, size=22, color=c)))
ann += [
    dict(text="Johnson_V-2mass_J_fast (Rest-Frame)", x=755 / W, y=(H - 1120) / H, xref="paper", yref="paper",
         xanchor="center", yanchor="middle", showarrow=False, font=dict(family=LFONT, size=23, color="black")),
    dict(text="John_U-John_V (Rest-Frame)", x=80 / W, y=(H - 587) / H, xref="paper", yref="paper",
         xanchor="center", yanchor="middle", textangle=-90, showarrow=False,
         font=dict(family=LFONT, size=22, color="black")),
    dict(text="sSFR [Gyr<sup>-1</sup>]", x=1492 / W, y=(H - 572) / H, xref="paper", yref="paper",
         xanchor="center", yanchor="middle", textangle=-90, showarrow=False,
         font=dict(family=RFONT, size=42, color="black", weight=300)),
    dict(text="M [M<sub>☉</sub>]", x=2202 / W, y=(H - 1098) / H, xref="paper", yref="paper",
         xanchor="center", yanchor="top", showarrow=False,
         font=dict(family=RFONT, size=44, color="black", weight=300)),
]
fig.update_layout(annotations=ann)

shapes = [
    dict(type="rect", xref="paper", yref="paper", x0=0, x1=1, y0=(H - 8) / H, y1=1,
         fillcolor="#fafafa", line=dict(width=0), layer="below"),
    dict(type="rect", xref="paper", yref="paper", x0=0, x1=1, y0=(H - 28) / H, y1=(H - 8) / H,
         fillcolor="#e7e7e7", line=dict(width=0), layer="below"),
    dict(type="rect", xref="paper", yref="paper", x0=0, x1=1439 / W, y0=(H - 63) / H, y1=(H - 28) / H,
         fillcolor="#f5f5f5", line=dict(width=0), layer="below"),
    dict(type="rect", xref="paper", yref="paper", x0=1439 / W, x1=1, y0=(H - 40) / H, y1=(H - 28) / H,
         fillcolor="#f5f5f5", line=dict(width=0), layer="below"),
    dict(type="rect", xref="paper", yref="paper", x0=0, x1=11 / W, y0=0, y1=(H - 63) / H,
         fillcolor="#f5f5f5", line=dict(width=0), layer="below"),
]
fig.update_layout(shapes=shapes)

fig.write_html("out.html", config={"displayModeBar": False},
               post_script="document.body.style.margin='0px';document.body.style.overflow='hidden';")
